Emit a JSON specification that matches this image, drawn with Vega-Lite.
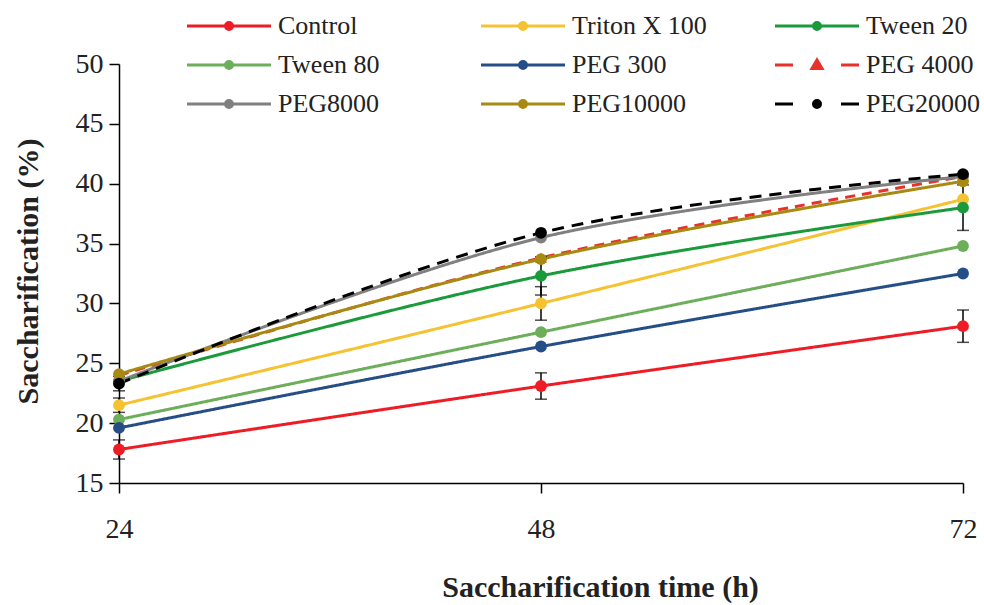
{
  "$schema": "https://vega.github.io/schema/vega-lite/v6.json",
  "width": 844,
  "height": 419,
  "autosize": {"type": "none"},
  "padding": {"left": 119, "top": 64, "right": 21, "bottom": 122},
  "config": {
    "view": {"stroke": null},
    "font": "serif",
    "axis": {"grid": false, "domainColor": "#000", "tickColor": "#000", "labelColor": "#222", "domainWidth": 1.5, "tickWidth": 1.5, "titleFont": "Liberation Serif", "titleColor": "#222"}
  },
  "data": {
    "values": [
      {"t": 24, "s": "Control", "v": 17.8, "e": 0.8},
      {"t": 48, "s": "Control", "v": 23.1, "e": 1.1},
      {"t": 72, "s": "Control", "v": 28.1, "e": 1.35},
      {"t": 24, "s": "Triton X 100", "v": 21.5, "e": 0.6},
      {"t": 48, "s": "Triton X 100", "v": 30.0, "e": 1.4},
      {"t": 72, "s": "Triton X 100", "v": 38.7, "e": 0},
      {"t": 24, "s": "Tween 20", "v": 23.5, "e": 0},
      {"t": 48, "s": "Tween 20", "v": 32.3, "e": 1.6},
      {"t": 72, "s": "Tween 20", "v": 38.0, "e": 1.9},
      {"t": 24, "s": "Tween 80", "v": 20.3, "e": 0},
      {"t": 48, "s": "Tween 80", "v": 27.6, "e": 0},
      {"t": 72, "s": "Tween 80", "v": 34.8, "e": 0},
      {"t": 24, "s": "PEG 300", "v": 19.6, "e": 0},
      {"t": 48, "s": "PEG 300", "v": 26.4, "e": 0},
      {"t": 72, "s": "PEG 300", "v": 32.5, "e": 0},
      {"t": 24, "s": "PEG 4000", "v": 24.0, "e": 0},
      {"t": 48, "s": "PEG 4000", "v": 33.8, "e": 0},
      {"t": 72, "s": "PEG 4000", "v": 40.6, "e": 0},
      {"t": 24, "s": "PEG8000", "v": 23.5, "e": 0},
      {"t": 48, "s": "PEG8000", "v": 35.5, "e": 0},
      {"t": 72, "s": "PEG8000", "v": 40.6, "e": 0},
      {"t": 24, "s": "PEG10000", "v": 24.1, "e": 0},
      {"t": 48, "s": "PEG10000", "v": 33.7, "e": 0},
      {"t": 72, "s": "PEG10000", "v": 40.2, "e": 0},
      {"t": 24, "s": "PEG20000", "v": 23.3, "e": 0.6},
      {"t": 48, "s": "PEG20000", "v": 35.9, "e": 0},
      {"t": 72, "s": "PEG20000", "v": 40.8, "e": 0}
    ]
  },
  "layer": [
    {
      "mark": {"type": "line", "interpolate": "catmull-rom", "strokeWidth": 3},
      "encoding": {
        "x": {"field": "t", "type": "quantitative", "title": "Saccharification time (h)", "scale": {"domain": [24, 72], "nice": false, "zero": false},
          "axis": {"title": "Saccharification time (h)", "values": [24, 48, 72], "tickSize": 10, "labelPadding": 22, "labelFont": "serif", "labelFontSize": 28, "labelFlush": false, "titleFontSize": 30, "titleFontWeight": "bold", "titleX": 481, "titleY": 104, "titleBaseline": "middle", "titleAnchor": null, "titleAlign": "center"}},
        "y": {"field": "v", "type": "quantitative", "title": "Saccharification (%)", "scale": {"domain": [15, 50], "nice": false, "zero": false},
          "axis": {"title": "Saccharification (%)", "values": [15, 20, 25, 30, 35, 40, 45, 50], "tickSize": 10, "labelPadding": 6, "labelFont": "serif", "labelFontSize": 28, "titleFontSize": 30, "titleFontWeight": "bold", "titleAngle": -90, "titleX": -91, "titleY": 207, "titleBaseline": "middle", "titleAlign": "center"}},
        "color": {"field": "s", "type": "nominal",
          "scale": {"domain": ["Control", "Tween 80", "PEG8000", "Triton X 100", "PEG 300", "PEG10000", "Tween 20", "PEG 4000", "PEG20000"],
            "range": ["#EE1C25", "#6DAE5B", "#808080", "#F5C232", "#254E86", "#A88A12", "#1A9A3A", "#E8312A", "#000000"]},
          "legend": {
            "orient": "none", "legendX": 129, "legendY": -51, "columns": 3, "gridAlign": "all", "columnPadding": 62, "rowPadding": 13,
            "title": null, "padding": 0, "symbolSize": 400, "symbolStrokeWidth": 3, "symbolFillColor": "transparent",
            "labelFont": "Times New Roman", "labelFontSize": 26, "labelColor": "#222", "labelOffset": 4, "labelLimit": 300,
            "symbolType": "M-7.4,0H1M-2.85,0A0.35,0.35 0 1,1 -3.55,0A0.35,0.35 0 1,1 -2.85,0M-3.05,0A0.15,0.15 0 1,1 -3.35,0A0.15,0.15 0 1,1 -3.05,0",
            "encode": {"symbols": {"update": {"shape": [
              {"test": "datum.value === 'PEG 4000'", "value": "M-7.4,0H-5.6M-0.8,0H1M-3.2,-0.5L-2.7,0.35L-3.7,0.35ZM-3.2,-0.2L-3.0,0.15L-3.4,0.15Z"},
              {"test": "datum.value === 'PEG20000'", "value": "M-7.4,0H-5.6M-0.8,0H1M-2.85,0A0.35,0.35 0 1,1 -3.55,0A0.35,0.35 0 1,1 -2.85,0M-3.05,0A0.15,0.15 0 1,1 -3.35,0A0.15,0.15 0 1,1 -3.05,0"},
              {"value": "M-7.4,0H1M-2.85,0A0.35,0.35 0 1,1 -3.55,0A0.35,0.35 0 1,1 -2.85,0M-3.05,0A0.15,0.15 0 1,1 -3.35,0A0.15,0.15 0 1,1 -3.05,0"}
            ]}}}
          }},
        "strokeDash": {"field": "s", "type": "nominal",
          "scale": {"domain": ["Control", "Tween 80", "PEG8000", "Triton X 100", "PEG 300", "PEG10000", "Tween 20", "PEG 4000", "PEG20000"],
            "range": [[1, 0], [1, 0], [1, 0], [1, 0], [1, 0], [1, 0], [1, 0], [10, 7], [12, 8]]},
          "legend": null}
      }
    },
    {
      "transform": [{"filter": "datum.e > 0"}],
      "mark": {"type": "errorbar", "ticks": {"size": 12}, "color": "#000", "thickness": 1.5},
      "encoding": {
        "x": {"field": "t", "type": "quantitative", "title": "Saccharification time (h)"},
        "y": {"field": "v", "type": "quantitative", "title": "Saccharification (%)"},
        "yError": {"field": "e"}
      }
    },
    {
      "mark": {"type": "point", "filled": true, "size": 140, "opacity": 1},
      "encoding": {
        "x": {"field": "t", "type": "quantitative", "title": "Saccharification time (h)"},
        "y": {"field": "v", "type": "quantitative", "title": "Saccharification (%)"},
        "color": {"field": "s", "type": "nominal",
          "scale": {"domain": ["Control", "Tween 80", "PEG8000", "Triton X 100", "PEG 300", "PEG10000", "Tween 20", "PEG 4000", "PEG20000"],
            "range": ["#EE1C25", "#6DAE5B", "#808080", "#F5C232", "#254E86", "#A88A12", "#1A9A3A", "#C0602B", "#000000"]},
          "legend": null},
        "shape": {"field": "s", "type": "nominal",
          "scale": {"domain": ["Control", "Tween 80", "PEG8000", "Triton X 100", "PEG 300", "PEG10000", "Tween 20", "PEG 4000", "PEG20000"],
            "range": ["circle", "circle", "circle", "circle", "circle", "circle", "circle", "triangle-up", "circle"]},
          "legend": null}
      }
    }
  ],
  "resolve": {"scale": {"color": "independent"}}
}
